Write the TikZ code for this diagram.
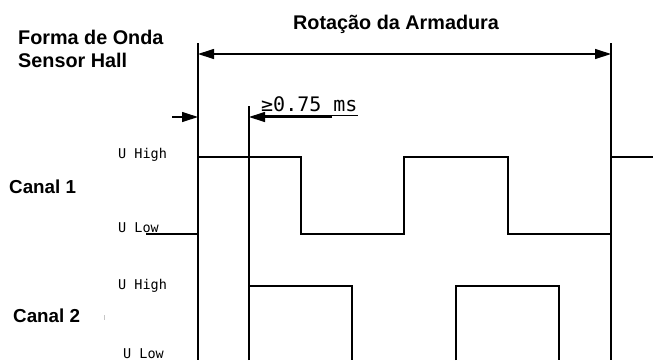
\documentclass[tikz,border=0pt]{standalone}
\usepackage{fontspec}
\setmainfont{Liberation Sans}
\newfontfamily\isofont{DejaVu Sans Mono}
\usetikzlibrary{arrows.meta}
\begin{document}
\begin{tikzpicture}[x=1pt,y=-1pt,
  wave/.style={line width=1.5pt},
  dimline/.style={line width=1.2pt},
  tipr/.style={-{Triangle[length=16pt,width=10pt]}},
  tipboth/.style={{Triangle[length=16pt,width=10pt]}-{Triangle[length=16pt,width=10pt]}},
  title/.style={font=\bfseries\fontsize{19.8}{23}\selectfont, inner sep=0pt, anchor=base west},
  chan/.style={font=\bfseries\fontsize{18.8}{22}\selectfont, inner sep=0pt, anchor=base west},
  lvl/.style={font=\isofont\fontsize{13.5}{14}\selectfont, inner sep=0pt, anchor=base west},
  dimtext/.style={font=\isofont\fontsize{20}{20}\selectfont, inner sep=0pt, anchor=base west},
]
\useasboundingbox (0,0) rectangle (653,360);

% titles
\node[title] (forma) at (18,44) {Forma de Onda};
\node[title] (sensor) at (18,67) {Sensor Hall};
\node[title] (rot) at (293,29) {Rotação da Armadura};
\node[chan] (c1) at (9,193) {Canal 1};
\node[chan] (c2) at (13,322) {Canal 2};

% level labels
\node[lvl] (h1) at (118,158) {U High};
\node[lvl] (l1) at (118,232) {U Low};
\node[lvl] (h2) at (118,289) {U High};
\node[lvl] (l2) at (123,358) {U Low};

% boundary verticals
\coordinate (L0) at (198,43);  \coordinate (L1) at (198,360);
\coordinate (R0) at (611,43);  \coordinate (R1) at (611,360);
\coordinate (M0) at (249,106); \coordinate (M1) at (249,360);
\draw[wave] (L0) -- (L1);
\draw[wave] (R0) -- (R1);
\draw[wave] (M0) -- (M1);

% rotation arrow
\coordinate (A1) at (198,54); \coordinate (A2) at (611,54);
\draw[dimline, tipboth] (A1) -- (A2);

% >=0.75 ms dimension
\coordinate (D0) at (172,117); \coordinate (D1) at (198,117);
\coordinate (D2) at (332,117); \coordinate (D3) at (249,117);
\draw[dimline, tipr] (D0) -- (D1);
\draw[dimline, tipr] (D2) -- (D3);
\node[dimtext] (dim) at (261,111) {≥0.75 ms};
\coordinate (U0) at (262,115); \coordinate (U1) at (358,115);
\draw[line width=0.8pt] (U0) -- (U1);

% Canal 1 waveform
\draw[wave] (146,234) -| (198,157) -| (301,234) -| (404,157) -| (508,234) -| (611,157) -- (653,157);

% Canal 2 waveform
\draw[wave] (249,360) |- (352,286) -- (352,360);
\draw[wave] (456,360) |- (559,286) -- (559,360);

% faint mark
\draw[gray!45, line width=0.8pt] (104,315) -- (104,320);
\end{tikzpicture}
\end{document}
